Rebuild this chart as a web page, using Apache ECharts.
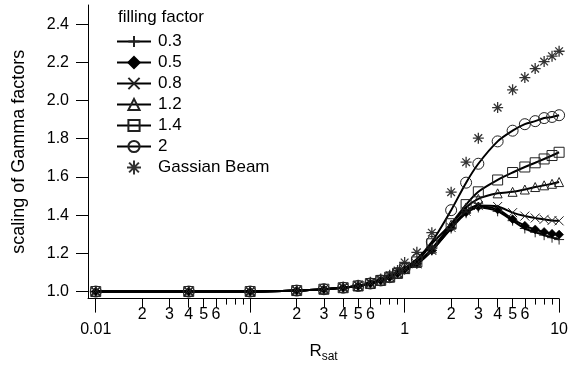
<!DOCTYPE html>
<html>
<head>
<meta charset="utf-8">
<script src="https://cdn.jsdelivr.net/npm/echarts@6/dist/echarts.min.js"></script>
<style>
html,body{margin:0;padding:0;background:#fff;}
#chart{width:571px;height:368px;}
</style>
</head>
<body>
<div id="chart"></div>
<script>
// R_sat sample points
const rsat = [0.01, 0.04, 0.1, 0.2, 0.3, 0.4, 0.5, 0.6, 0.7, 0.8, 0.9, 1, 1.2, 1.5, 2, 2.5, 3, 4, 5, 6, 7, 8, 9, 10];
// scaling of Gamma factors per filling factor
const ff03 = [1.0, 1.0, 1.0, 1.005, 1.012, 1.02, 1.029, 1.042, 1.058, 1.075, 1.095, 1.115, 1.145, 1.215, 1.33, 1.41, 1.44, 1.42, 1.371, 1.33, 1.31, 1.295, 1.282, 1.272];
const ff05 = [1.0, 1.0, 1.0, 1.005, 1.012, 1.02, 1.029, 1.042, 1.058, 1.075, 1.095, 1.115, 1.145, 1.215, 1.335, 1.415, 1.445, 1.43, 1.379, 1.345, 1.325, 1.312, 1.303, 1.298];
const ff08 = [1.0, 1.0, 1.0, 1.005, 1.012, 1.02, 1.029, 1.042, 1.058, 1.075, 1.095, 1.115, 1.145, 1.215, 1.335, 1.42, 1.45, 1.445, 1.413, 1.395, 1.385, 1.378, 1.372, 1.37];
const ff12 = [1.0, 1.0, 1.0, 1.005, 1.012, 1.02, 1.029, 1.042, 1.058, 1.075, 1.095, 1.118, 1.15, 1.225, 1.35, 1.44, 1.485, 1.514, 1.522, 1.534, 1.547, 1.556, 1.564, 1.573];
const ff14 = [1.0, 1.0, 1.0, 1.005, 1.012, 1.02, 1.029, 1.042, 1.058, 1.075, 1.095, 1.12, 1.155, 1.25, 1.355, 1.455, 1.522, 1.584, 1.623, 1.652, 1.674, 1.694, 1.712, 1.729];
const ff20 = [1.0, 1.0, 1.0, 1.005, 1.012, 1.02, 1.029, 1.042, 1.058, 1.075, 1.097, 1.122, 1.17, 1.26, 1.426, 1.57, 1.669, 1.786, 1.842, 1.876, 1.892, 1.908, 1.914, 1.923];
const gauss = [1.0, 1.0, 1.0, 1.005, 1.012, 1.022, 1.033, 1.048, 1.065, 1.085, 1.11, 1.152, 1.205, 1.308, 1.52, 1.677, 1.803, 1.963, 2.056, 2.12, 2.167, 2.204, 2.232, 2.258];
const seriesNames = ['0.3', '0.5', '0.8', '1.2', '1.4', '2', 'Gassian Beam'];
// tick labels
const yTicks = [1.0, 1.2, 1.4, 1.6, 1.8, 2.0, 2.2, 2.4];
const xMajor = [0.01, 0.1, 1, 10];
const xMinorLabeled = [0.02, 0.03, 0.04, 0.05, 0.06, 0.2, 0.3, 0.4, 0.5, 0.6, 2, 3, 4, 5, 6];
const xMinorPlain = [0.07, 0.08, 0.09, 0.7, 0.8, 0.9, 7, 8, 9];

const L = v => Math.log10(v);
const pts = vals => rsat.map((r, i) => [L(r), vals[i]]);

const FONT = 'Liberation Sans, Arial, sans-serif';
const symPlus = 'path://M5,0L5,10M0,5L10,5';
const symCross = 'path://M0,0L10,10M10,0L0,10';
const symStar = 'path://M5,0L5,10M0,5L10,5M1.5,1.5L8.5,8.5M8.5,1.5L1.5,8.5';
const hollow = {color: 'rgba(0,0,0,0)', borderColor: '#222', borderWidth: 1};

function lineSeries(name, vals, symbol, size, itemStyle) {
  return {
    name, type: 'line', data: pts(vals), smooth: 0.3,
    symbol, symbolSize: size, showAllSymbol: true,
    lineStyle: {color: '#000', width: 2},
    itemStyle: itemStyle,
    emphasis: {disabled: true}
  };
}

const xRange = {min: -2.05, max: 1};
const chart = echarts.init(document.getElementById('chart'));
chart.setOption({
  animation: false,
  backgroundColor: '#fff',
  textStyle: {fontFamily: FONT},
  grid: {left: 88, right: 9, top: 5, bottom: 59},
  title: {
    text: 'filling factor', left: 113, top: 4,
    textStyle: {fontFamily: FONT, fontSize: 17, fontWeight: 'normal', color: '#000'}
  },
  legend: {
    orient: 'vertical', left: 111, top: 28,
    itemWidth: 34, itemHeight: 14, itemGap: 4,
    data: seriesNames,
    textStyle: {fontFamily: FONT, fontSize: 17, color: '#000', lineHeight: 14, padding: [0, 0, 0, 2]}
  },
  xAxis: [
    {
      type: 'value', min: xRange.min, max: xRange.max, position: 'bottom',
      name: '{r|R}{s|sat}', nameLocation: 'middle', nameGap: 36,
      nameTextStyle: {
        rich: {
          r: {fontFamily: FONT, fontSize: 17, color: '#000'},
          s: {fontFamily: FONT, fontSize: 12, color: '#000', padding: [12, 0, 0, 0]}
        }
      },
      axisLine: {show: true, onZero: false, lineStyle: {color: '#000', width: 1}},
      axisTick: {show: true, customValues: xMajor.map(L), length: 14, lineStyle: {color: '#000'}},
      axisLabel: {
        show: true, customValues: xMajor.map(L), margin: 23,
        fontFamily: FONT, fontSize: 16, color: '#000',
        formatter: v => String(xMajor.find(m => Math.abs(L(m) - v) < 1e-6))
      },
      splitLine: {show: false}
    },
    {
      type: 'value', min: xRange.min, max: xRange.max, position: 'bottom',
      axisLine: {show: false, onZero: false},
      axisTick: {show: true, customValues: xMinorLabeled.map(L), length: 9, lineStyle: {color: '#000'}},
      axisLabel: {
        show: true, customValues: xMinorLabeled.map(L), margin: 8,
        fontFamily: FONT, fontSize: 16, color: '#000',
        formatter: v => {
          const m = xMinorLabeled.find(x => Math.abs(L(x) - v) < 1e-6);
          return String(Math.round(m / Math.pow(10, Math.floor(L(m) + 1e-9))));
        }
      },
      splitLine: {show: false}
    },
    {
      type: 'value', min: xRange.min, max: xRange.max, position: 'bottom',
      axisLine: {show: false, onZero: false},
      axisTick: {show: true, customValues: xMinorPlain.map(L), length: 6, lineStyle: {color: '#000'}},
      axisLabel: {show: false},
      splitLine: {show: false}
    }
  ],
  yAxis: {
    type: 'value', min: 0.963, max: 2.5, position: 'left',
    name: 'scaling of Gamma factors', nameLocation: 'middle', nameGap: 60,
    nameTextStyle: {fontFamily: FONT, fontSize: 18, color: '#000'},
    axisLine: {show: true, onZero: false, lineStyle: {color: '#000', width: 1}},
    axisTick: {show: true, customValues: yTicks, length: 12, lineStyle: {color: '#000'}},
    axisLabel: {
      show: true, customValues: yTicks, margin: 19,
      fontFamily: FONT, fontSize: 16, color: '#000',
      formatter: v => v.toFixed(1)
    },
    splitLine: {show: false}
  },
  series: [
    lineSeries('0.3', ff03, symPlus, 10, hollow),
    lineSeries('0.5', ff05, 'diamond', 9, {color: '#000', borderColor: '#000', borderWidth: 0.5}),
    lineSeries('0.8', ff08, symCross, 9, hollow),
    lineSeries('1.2', ff12, 'triangle', 9, hollow),
    lineSeries('1.4', ff14, 'rect', 10, hollow),
    lineSeries('2', ff20, 'circle', 11, hollow),
    {
      name: 'Gassian Beam', type: 'scatter', data: pts(gauss),
      symbol: symStar, symbolSize: 11,
      itemStyle: {color: 'rgba(0,0,0,0)', borderColor: '#000', borderWidth: 1.3},
      emphasis: {disabled: true}
    }
  ]
});
</script>
</body>
</html>
